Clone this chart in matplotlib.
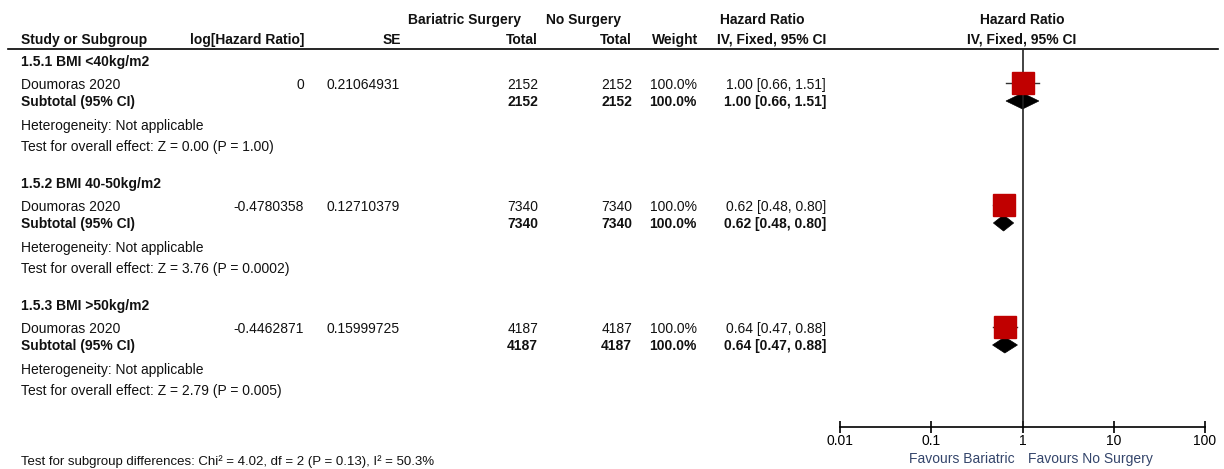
import numpy as np
import matplotlib.pyplot as plt
from matplotlib.patches import Polygon

plt.rcParams['font.family'] = ['Liberation Sans', 'DejaVu Sans']

# data
groups = ["1.5.1 BMI <40kg/m2", "1.5.2 BMI 40-50kg/m2", "1.5.3 BMI >50kg/m2"]
studies = ["Doumoras 2020", "Doumoras 2020", "Doumoras 2020"]
log_hr = ["0", "-0.4780358", "-0.4462871"]
se = ["0.21064931", "0.12710379", "0.15999725"]
n_surgery = [2152, 7340, 4187]
n_control = [2152, 7340, 4187]
weights = ["100.0%", "100.0%", "100.0%"]
hr = [1.00, 0.62, 0.64]
ci_low = [0.66, 0.48, 0.47]
ci_high = [1.51, 0.80, 0.88]
z_tests = ["Z = 0.00 (P = 1.00)", "Z = 3.76 (P = 0.0002)", "Z = 2.79 (P = 0.005)"]
ticks = [0.01, 0.1, 1, 10, 100]
tick_labels = ["0.01", "0.1", "1", "10", "100"]
subgroup_test = "Test for subgroup differences: Chi\u00b2 = 4.02, df = 2 (P = 0.13), I\u00b2 = 50.3%"

W, H = 1224, 469
fig = plt.figure(figsize=(W / 100, H / 100), dpi=100)

# text layer in pixel coordinates
tx = fig.add_axes([0, 0, 1, 1])
tx.set_xlim(0, W)
tx.set_ylim(H, 0)
tx.axis("off")

fs = 10
txtcol = "#111111"

def put(x, y, s, ha="left", bold=False, color=txtcol):
    tx.text(x, y, s, ha=ha, va="baseline", fontsize=fs,
            fontweight="bold" if bold else "normal", color=color)

# header
put(408, 24, "Bariatric Surgery", bold=True)
put(546, 24, "No Surgery", bold=True)
put(762, 24, "Hazard Ratio", ha="center", bold=True)
put(1022, 24, "Hazard Ratio", ha="center", bold=True)
put(21, 44, "Study or Subgroup", bold=True)
put(304, 44, "log[Hazard Ratio]", ha="right", bold=True)
put(401, 44, "SE", ha="right", bold=True)
put(538, 44, "Total", ha="right", bold=True)
put(632, 44, "Total", ha="right", bold=True)
put(698, 44, "Weight", ha="right", bold=True)
put(826, 44, "IV, Fixed, 95% CI", ha="right", bold=True)
put(1022, 44, "IV, Fixed, 95% CI", ha="center", bold=True)
tx.plot([8, 1218], [49, 49], color="black", lw=1.2)

study_y = []
sub_y = []
for k in range(len(groups)):
    off = 122 * k
    ci_txt = f"{hr[k]:.2f} [{ci_low[k]:.2f}, {ci_high[k]:.2f}]"
    put(21, 66 + off, groups[k], bold=True)
    put(21, 89 + off, studies[k])
    put(304, 89 + off, log_hr[k], ha="right")
    put(400, 89 + off, se[k], ha="right")
    put(538, 89 + off, str(n_surgery[k]), ha="right")
    put(632, 89 + off, str(n_control[k]), ha="right")
    put(697, 89 + off, weights[k], ha="right")
    put(826, 89 + off, ci_txt, ha="right")
    put(21, 106 + off, "Subtotal (95% CI)", bold=True)
    put(538, 106 + off, str(n_surgery[k]), ha="right", bold=True)
    put(632, 106 + off, str(n_control[k]), ha="right", bold=True)
    put(697, 106 + off, weights[k], ha="right", bold=True)
    put(826, 106 + off, ci_txt, ha="right", bold=True)
    put(21, 130 + off, "Heterogeneity: Not applicable")
    put(21, 151 + off, "Test for overall effect: " + z_tests[k])
    study_y.append(83 + off)
    sub_y.append(101 + off)

# bottom line sits at the lower edge, as in the reference, but kept inside
tx.text(21, 465, subgroup_test, ha="left", va="baseline", fontsize=9.5, color=txtcol)

# forest panel
ax = fig.add_axes([840 / W, (H - 427) / H, 365 / W, 378 / H])
ax.set_xscale("log")
ax.set_xlim(0.01, 100)
ax.set_ylim(427, 49)
ax.patch.set_alpha(0)
for s in ["top", "left", "right"]:
    ax.spines[s].set_visible(False)
ax.spines["bottom"].set_linewidth(1.2)
ax.set_yticks([])
ax.set_xticks(ticks)
ax.set_xticklabels(tick_labels, fontsize=fs)
ax.minorticks_off()
ax.tick_params(axis="x", direction="inout", length=8, width=1.2, pad=1)
ax.axvline(1, color="#222222", lw=1.2)

for k in range(len(groups)):
    ax.plot([ci_low[k], ci_high[k]], [study_y[k], study_y[k]], color="#333333", lw=1)
    ax.plot([hr[k]], [study_y[k]], marker="s", markersize=16.5,
            color="#c00000", markeredgecolor="#c00000", linestyle="none")
    y = sub_y[k]
    ax.add_patch(Polygon([(ci_low[k], y), (hr[k], y - 8), (ci_high[k], y), (hr[k], y + 8)],
                         closed=True, facecolor="black", edgecolor="black", lw=0.5))

fav = "#34456b"
tx.text(1015, 463, "Favours Bariatric", ha="right", va="baseline", fontsize=fs, color=fav)
tx.text(1028, 463, "Favours No Surgery", ha="left", va="baseline", fontsize=fs, color=fav)

fig.savefig("out.png", dpi=100)
